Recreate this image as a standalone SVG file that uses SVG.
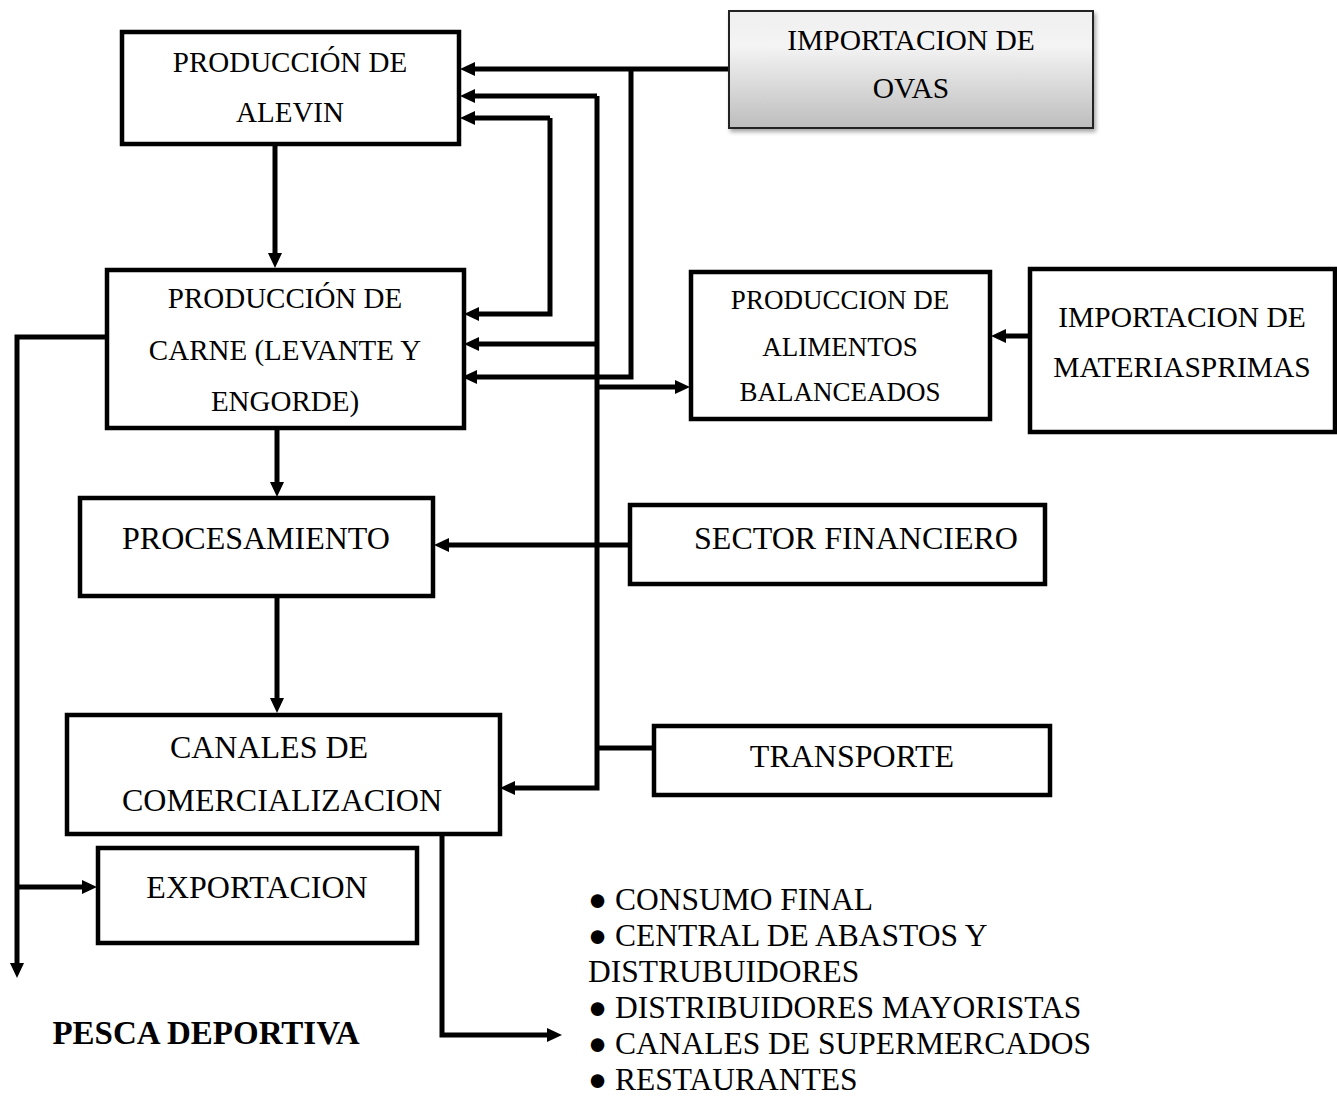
<svg xmlns="http://www.w3.org/2000/svg" width="1337" height="1097" viewBox="0 0 1337 1097">
<style>
.box{fill:#fff;stroke:#000;stroke-width:4.5}
.t{font-family:"Liberation Serif","Times New Roman",serif;fill:#000;text-anchor:middle}
.c{fill:none;stroke:#000;stroke-width:5}
</style>
<defs>
<marker id="ah" markerUnits="userSpaceOnUse" markerWidth="16" markerHeight="14" refX="1" refY="7" orient="auto"><path d="M0,0 L15,7 L0,14 z" fill="#000"/></marker>
<linearGradient id="g" x1="0" y1="0" x2="0" y2="1"><stop offset="0" stop-color="#efefef"/><stop offset="0.3" stop-color="#f4f4f4"/><stop offset="1" stop-color="#bdbdbd"/></linearGradient>
<filter id="sh" x="-5%" y="-5%" width="115%" height="120%"><feDropShadow dx="2" dy="3" stdDeviation="2" flood-color="#000" flood-opacity="0.35"/></filter>
</defs>
<g id="connectors">
<path class="c" d="M730,69 H474" marker-end="url(#ah)"/>
<path class="c" d="M631,69 V377 H476" marker-end="url(#ah)"/>
<path class="c" d="M597,96 H474" marker-end="url(#ah)"/>
<path class="c" d="M597,96 V788 H514" marker-end="url(#ah)"/>
<path class="c" d="M597,344 H478" marker-end="url(#ah)"/>
<path class="c" d="M597,387 H676" marker-end="url(#ah)"/>
<path class="c" d="M597,748 H654"/>
<path class="c" d="M550,118 V314 H478" marker-end="url(#ah)"/>
<path class="c" d="M550,118 H474" marker-end="url(#ah)"/>
<path class="c" d="M275,144 V254" marker-end="url(#ah)"/>
<path class="c" d="M277,428 V483" marker-end="url(#ah)"/>
<path class="c" d="M277,597 V699" marker-end="url(#ah)"/>
<path class="c" d="M630,545 H448" marker-end="url(#ah)"/>
<path class="c" d="M1030,336 H1005" marker-end="url(#ah)"/>
<path class="c" d="M107,337 H17 V964" marker-end="url(#ah)"/>
<path class="c" d="M17,887 H83" marker-end="url(#ah)"/>
<path class="c" d="M442,835 V1035 H548" marker-end="url(#ah)"/>
</g>
<g id="alevin"><rect class="box" x="122" y="32" width="337" height="112"/><text class="t" font-size="29" x="290" y="72">PRODUCCIÓN DE</text><text class="t" font-size="29" x="290" y="122">ALEVIN</text></g>
<g id="carne"><rect class="box" x="107" y="270" width="357" height="158"/><text class="t" font-size="29" x="285" y="308">PRODUCCIÓN DE</text><text class="t" font-size="29" x="285" y="360">CARNE (LEVANTE Y</text><text class="t" font-size="29" x="285" y="411">ENGORDE)</text></g>
<g id="procesamiento"><rect class="box" x="80" y="498" width="353" height="98"/><text class="t" font-size="32" x="256" y="549">PROCESAMIENTO</text></g>
<g id="sector"><rect class="box" x="630" y="505" width="415" height="79"/><text class="t" font-size="32" x="856" y="549">SECTOR FINANCIERO</text></g>
<g id="canales"><rect class="box" x="67" y="715" width="433" height="119"/><text class="t" font-size="32" x="269" y="758">CANALES DE</text><text class="t" font-size="32" x="282" y="811">COMERCIALIZACION</text></g>
<g id="transporte"><rect class="box" x="654" y="726" width="396" height="69"/><text class="t" font-size="32" x="852" y="767">TRANSPORTE</text></g>
<g id="exportacion"><rect class="box" x="98" y="848" width="319" height="95"/><text class="t" font-size="32" x="257" y="898">EXPORTACION</text></g>
<g id="ovas"><rect x="729" y="11" width="364" height="117" fill="url(#g)" stroke="#222" stroke-width="2" filter="url(#sh)"/><text class="t" font-size="29.5" x="911" y="50">IMPORTACION DE</text><text class="t" font-size="29.5" x="911" y="98">OVAS</text></g>
<g id="alimentos"><rect class="box" x="691" y="272" width="299" height="147"/><text class="t" font-size="27" x="840" y="309">PRODUCCION DE</text><text class="t" font-size="27" x="840" y="356">ALIMENTOS</text><text class="t" font-size="27" x="840" y="401">BALANCEADOS</text></g>
<g id="materias"><rect class="box" x="1030" y="269" width="305" height="163"/><text class="t" font-size="29.5" x="1182" y="327">IMPORTACION DE</text><text class="t" font-size="29.5" x="1182" y="377">MATERIASPRIMAS</text></g>
<g id="pesca"><text class="t" font-size="33" font-weight="bold" x="206" y="1044">PESCA DEPORTIVA</text></g>
<g id="destinos" font-family="Liberation Serif, Times New Roman, serif" font-size="31.5">
<text x="588" y="910">● CONSUMO FINAL</text>
<text x="588" y="946">● CENTRAL DE ABASTOS Y</text>
<text x="588" y="982">DISTRUBUIDORES</text>
<text x="588" y="1018">● DISTRIBUIDORES MAYORISTAS</text>
<text x="588" y="1054">● CANALES DE SUPERMERCADOS</text>
<text x="588" y="1090">● RESTAURANTES</text>
</g>
</svg>
